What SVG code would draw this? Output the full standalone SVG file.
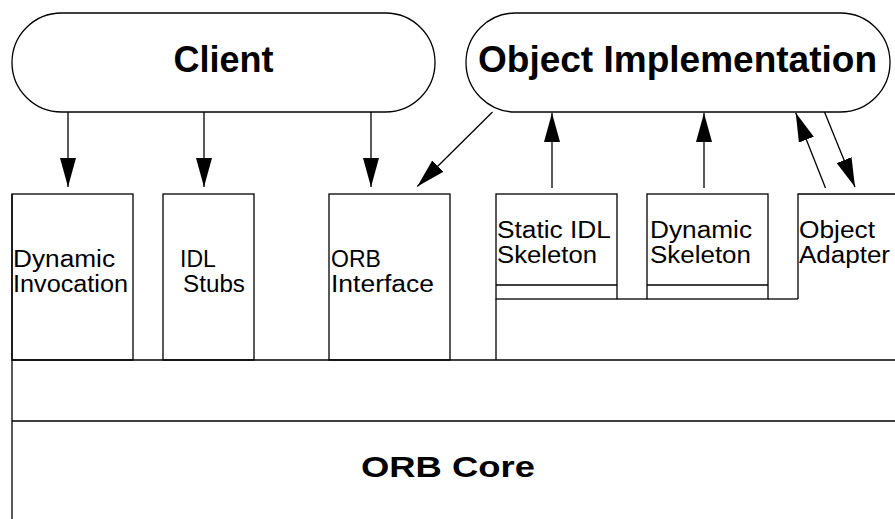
<svg xmlns="http://www.w3.org/2000/svg" width="895" height="519" viewBox="0 0 895 519">
<style>
.ln{fill:none;stroke:#000;stroke-width:1.3}
.t{font-family:"Liberation Sans",Arial,sans-serif;font-size:23px;fill:#000}
.b{font-family:"Liberation Sans",Arial,sans-serif;font-weight:bold;font-size:36px;fill:#000}
.ar{fill:none;stroke:#000;stroke-width:1.3;marker-end:url(#ah)}
</style>
<defs>
<marker id="ah" viewBox="0 0 29 16" refX="29" refY="8" markerWidth="29" markerHeight="16" orient="auto" markerUnits="userSpaceOnUse">
<path d="M0,0 L29,8 L0,16 Z" fill="#000"/>
</marker>
</defs>
<rect width="895" height="519" fill="#fff"/>
<g id="client">
<rect class="ln" x="12" y="13" width="423" height="99" rx="49.5" ry="49.5"/>
<text class="b" x="223.5" y="72" text-anchor="middle">Client</text>
</g>
<g id="object-implementation">
<rect class="ln" x="466" y="13" width="424" height="99" rx="49.5" ry="49.5"/>
<text class="b" x="478" y="72" textLength="399" lengthAdjust="spacingAndGlyphs">Object Implementation</text>
</g>
<g id="dynamic-invocation">
<rect class="ln" x="12" y="194" width="121" height="166"/>
<text class="t" x="13" y="267" textLength="102" lengthAdjust="spacingAndGlyphs">Dynamic</text>
<text class="t" x="13" y="292" textLength="115" lengthAdjust="spacingAndGlyphs">Invocation</text>
</g>
<g id="idl-stubs">
<rect class="ln" x="163" y="194" width="91" height="166"/>
<text class="t" x="180" y="267">IDL</text>
<text class="t" x="183" y="292" textLength="62" lengthAdjust="spacingAndGlyphs">Stubs</text>
</g>
<g id="orb-interface">
<rect class="ln" x="329" y="194" width="121" height="166"/>
<text class="t" x="331" y="267">ORB</text>
<text class="t" x="331" y="292" textLength="103" lengthAdjust="spacingAndGlyphs">Interface</text>
</g>
<g id="static-idl-skeleton">
<rect class="ln" x="496" y="194" width="121" height="105"/>
<line class="ln" x1="496" y1="285" x2="617" y2="285"/>
<line class="ln" x1="496" y1="299" x2="496" y2="360"/>
<text class="t" x="497" y="238" textLength="114" lengthAdjust="spacingAndGlyphs">Static IDL</text>
<text class="t" x="497" y="263" textLength="100" lengthAdjust="spacingAndGlyphs">Skeleton</text>
</g>
<g id="dynamic-skeleton">
<rect class="ln" x="647" y="194" width="121" height="105"/>
<line class="ln" x1="647" y1="285" x2="768" y2="285"/>
<text class="t" x="650" y="238" textLength="102" lengthAdjust="spacingAndGlyphs">Dynamic</text>
<text class="t" x="650" y="263" textLength="101" lengthAdjust="spacingAndGlyphs">Skeleton</text>
</g>
<g id="object-adapter">
<path class="ln" d="M798,299 V194 H900"/>
<line class="ln" x1="617" y1="299" x2="647" y2="299"/>
<line class="ln" x1="768" y1="299" x2="798" y2="299"/>
<text class="t" x="799" y="238" textLength="76" lengthAdjust="spacingAndGlyphs">Object</text>
<text class="t" x="799" y="263" textLength="91" lengthAdjust="spacingAndGlyphs">Adapter</text>
</g>
<g id="orb-core">
<line class="ln" x1="12" y1="360" x2="895" y2="360"/>
<line class="ln" x1="12" y1="421" x2="895" y2="421"/>
<line class="ln" x1="12" y1="194" x2="12" y2="519"/>
<text class="b" x="361" y="477" font-size="30" textLength="174" lengthAdjust="spacingAndGlyphs" style="font-size:30px">ORB Core</text>
</g>
<g id="connectors">
<line class="ar" x1="68" y1="112" x2="68" y2="187"/>
<line class="ar" x1="204" y1="112" x2="204" y2="187"/>
<line class="ar" x1="371" y1="112" x2="371" y2="187"/>
<line class="ar" x1="492.5" y1="112" x2="417.3" y2="186.5"/>
<line class="ar" x1="552" y1="188" x2="552" y2="113"/>
<line class="ar" x1="704" y1="188" x2="704" y2="113"/>
<line class="ar" x1="825.5" y1="188" x2="795.7" y2="112.7"/>
<line class="ar" x1="824.5" y1="112" x2="855" y2="187"/>
</g>
</svg>
